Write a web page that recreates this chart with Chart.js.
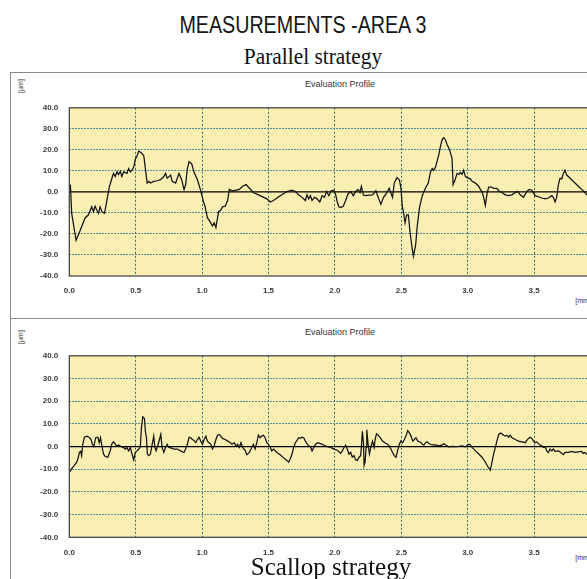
<!DOCTYPE html>
<html>
<head>
<meta charset="utf-8">
<script src="https://cdn.jsdelivr.net/npm/chart.js@4.4.1/dist/chart.umd.min.js"></script>
<style>
  html, body { margin: 0; padding: 0; background: #fff; width: 587px; height: 579px; overflow: hidden; }
  #page { position: relative; width: 587px; height: 579px; overflow: hidden; background: #fff; }
  .panel { position: absolute; left: 10px; width: 660px; border: 1px solid #8c8c8c; background: #fff; box-sizing: border-box; }
  .lbl { position: absolute; white-space: nowrap; transform: translate(-50%, -50%); line-height: 1; }
  .main-title { font-family: "Liberation Sans Narrow", "Liberation Sans", Arial, sans-serif; font-size: 24px; color: #151515;
                transform: translate(-50%, -50%) scaleX(0.82); }
  .sub-title { font-family: "Liberation Serif", "Times New Roman", serif; color: #111; }
  .small { font-family: "Liberation Sans", Arial, sans-serif; color: #333; }
  .chart-box { position: absolute; left: 0; }
  canvas { display: block; }
</style>
</head>
<body>
<div id="page">
  <div class="panel" style="top:72px;height:247px;"></div>
  <div class="panel" style="top:318px;height:290px;"></div>

  <div class="lbl main-title" style="left:303px;top:25px;">MEASUREMENTS -AREA 3</div>
  <div class="lbl sub-title" style="left:313px;top:56px;font-size:23px;transform:translate(-50%,-50%) scaleX(0.93);">Parallel strategy</div>

  <div class="lbl small" style="left:340px;top:84px;font-size:9px;">Evaluation Profile</div>
  <div class="lbl small" style="left:20px;top:86px;font-size:7px;transform:translate(-50%,-50%) rotate(-90deg);">[µm]</div>
  <div class="lbl small" style="left:583px;top:300px;font-size:7px;">[mm]</div>

  <div class="lbl small" style="left:340px;top:332px;font-size:9px;">Evaluation Profile</div>
  <div class="lbl small" style="left:20px;top:337px;font-size:7px;transform:translate(-50%,-50%) rotate(-90deg);">[µm]</div>
  <div class="lbl small" style="left:583px;top:557px;font-size:7px;">[mm]</div>

  <div class="chart-box" style="top:92px;"><canvas id="parallelChart" width="640" height="210"></canvas></div>
  <div class="chart-box" style="top:340px;"><canvas id="scallopChart" width="640" height="224"></canvas></div>

  <div class="lbl sub-title" style="left:331px;top:566px;font-size:25px;">Scallop strategy</div>
</div>

<script>
// Evaluation length [mm] and height range [µm]
const X_MIN = 0.0, X_MAX = 4.0, X_STEP = 0.5;
const Y_MIN = -40, Y_MAX = 40, Y_STEP = 10;

// Parallel strategy profile: position [mm]
const parallelX = [
  0.008, 0.018, 0.051, 0.081, 0.119, 0.144, 0.169, 0.182, 0.194, 0.207, 0.220, 0.232, 0.245, 0.265, 0.283,
  0.301, 0.321, 0.333, 0.346, 0.359, 0.371, 0.384, 0.396, 0.409, 0.434, 0.447, 0.460, 0.472, 0.485, 0.497,
  0.510, 0.523, 0.543, 0.561, 0.573, 0.586, 0.598, 0.611, 0.636, 0.662, 0.687, 0.712, 0.725, 0.737, 0.763,
  0.775, 0.801, 0.826, 0.846, 0.864, 0.876, 0.889, 0.902, 0.922, 0.939, 0.965, 0.990, 1.008, 1.023, 1.040,
  1.058, 1.078, 1.091, 1.104, 1.124, 1.141, 1.154, 1.174, 1.192, 1.205, 1.230, 1.255, 1.280, 1.306, 1.331,
  1.386, 1.437, 1.487, 1.513, 1.538, 1.588, 1.639, 1.677, 1.702, 1.727, 1.753, 1.778, 1.790, 1.803, 1.816,
  1.828, 1.846, 1.866, 1.886, 1.904, 1.922, 1.937, 1.955, 1.972, 1.992, 2.005, 2.018, 2.030, 2.043, 2.063,
  2.081, 2.098, 2.119, 2.139, 2.157, 2.174, 2.189, 2.199, 2.215, 2.232, 2.258, 2.283, 2.308, 2.326, 2.346,
  2.366, 2.384, 2.409, 2.434, 2.447, 2.467, 2.485, 2.497, 2.508, 2.518, 2.528, 2.540, 2.553, 2.566, 2.578,
  2.591, 2.608, 2.620, 2.638, 2.658, 2.683, 2.703, 2.720, 2.733, 2.745, 2.758, 2.770, 2.783, 2.795, 2.808,
  2.820, 2.833, 2.845, 2.858, 2.866, 2.875, 2.882, 2.890, 2.905, 2.920, 2.933, 2.945, 2.958, 2.970, 2.983,
  2.995, 3.020, 3.033, 3.058, 3.083, 3.095, 3.108, 3.120, 3.133, 3.145, 3.158, 3.178, 3.195, 3.220, 3.238,
  3.258, 3.283, 3.308, 3.333, 3.358, 3.378, 3.395, 3.420, 3.445, 3.463, 3.483, 3.508, 3.533, 3.558, 3.583,
  3.608, 3.633, 3.645, 3.658, 3.670, 3.683, 3.695, 3.708, 3.720, 3.733, 3.745, 3.758, 3.783, 3.808, 3.833,
  3.858, 3.883, 3.903
];
// Parallel strategy profile: height [µm]
const parallelY = [
  3.5, -10.2, -23.0, -18.5, -12.4, -10.9, -7.1, -9.4, -6.8, -8.6, -10.2, -7.1, -9.4, -10.2, -4.1,
  2.3, 6.5, 8.8, 7.3, 9.5, 8.3, 9.8, 7.3, 9.5, 8.8, 11.1, 9.5, 10.3, 11.8, 15.6,
  17.1, 19.4, 18.6, 17.1, 11.1, 4.2, 5.0, 4.2, 5.0, 5.3, 5.8, 7.3, 8.8, 6.5, 8.0,
  5.0, 4.2, 8.8, 5.8, 1.2, 3.5, 11.1, 14.4, 13.3, 9.5, 5.8, 0.5, -4.1, -7.1, -12.4,
  -13.9, -16.2, -14.7, -17.0, -9.4, -8.6, -7.1, -6.8, -4.1, 1.2, 0.5, 0.8, 1.2, 2.7, 3.5,
  -0.3, -1.8, -3.3, -4.8, -4.1, -1.8, 0.2, 0.8, 0.2, -1.4, -2.6, -4.1, -1.4, -3.3, -1.8,
  -4.1, -2.6, -3.3, -4.8, -1.8, -2.6, 0.2, -1.8, 0.5, 0.8, -1.1, -4.8, -7.1, -7.4, -6.8,
  -4.1, -1.1, 0.2, -1.8, 0.2, 1.2, -0.3, 2.7, -1.5, -1.8, -1.5, -1.4, 0.5, -2.6, -5.9,
  -2.6, -1.1, 1.7, -2.6, 4.2, 6.8, 5.8, 2.0, -7.1, -10.2, -14.7, -10.9, -10.9, -19.2, -25.3,
  -30.6, -25.3, -16.2, -7.1, -1.8, 2.0, 4.2, 9.5, 11.1, 10.3, 11.8, 14.8, 17.9, 21.7, 25.0,
  25.8, 24.7, 22.4, 20.9, 19.4, 17.5, 16.0, 3.5, 5.8, 8.8, 8.3, 9.2, 8.3, 10.3, 7.3,
  6.8, 6.2, 5.0, 4.2, 2.7, 1.2, 0.2, -2.6, -6.4, -1.1, 2.3, 2.3, 1.7, 1.7, 0.2,
  -0.3, -1.4, -1.8, -1.4, -0.3, 0.2, -1.4, -2.6, 0.2, 1.2, 0.8, -1.8, -2.3, -2.9, -3.3,
  -2.9, -1.8, -2.6, -4.8, -2.6, 3.5, 6.5, 6.2, 8.8, 10.3, 8.0, 7.3, 5.8, 4.2, 2.7,
  1.2, -0.3, -1.8
];

// Scallop strategy profile: position [mm]
const scallopX = [
  0.005, 0.018, 0.038, 0.056, 0.068, 0.076, 0.086, 0.093, 0.101, 0.114, 0.131, 0.149, 0.164, 0.174, 0.184,
  0.199, 0.215, 0.225, 0.235, 0.245, 0.258, 0.270, 0.290, 0.308, 0.321, 0.333, 0.346, 0.359, 0.371, 0.391,
  0.409, 0.422, 0.434, 0.447, 0.460, 0.472, 0.485, 0.497, 0.510, 0.523, 0.535, 0.543, 0.553, 0.566, 0.573,
  0.581, 0.588, 0.598, 0.611, 0.624, 0.636, 0.644, 0.654, 0.669, 0.679, 0.689, 0.699, 0.712, 0.725, 0.737,
  0.750, 0.770, 0.788, 0.813, 0.838, 0.864, 0.876, 0.889, 0.902, 0.914, 0.927, 0.939, 0.952, 0.965, 0.977,
  0.990, 1.003, 1.015, 1.028, 1.040, 1.053, 1.066, 1.078, 1.091, 1.104, 1.116, 1.129, 1.141, 1.154, 1.174,
  1.192, 1.205, 1.225, 1.242, 1.255, 1.268, 1.280, 1.293, 1.306, 1.326, 1.336, 1.356, 1.374, 1.386, 1.399,
  1.412, 1.424, 1.437, 1.449, 1.462, 1.475, 1.487, 1.500, 1.513, 1.525, 1.538, 1.563, 1.588, 1.614, 1.639,
  1.652, 1.664, 1.677, 1.689, 1.702, 1.715, 1.727, 1.740, 1.753, 1.765, 1.778, 1.790, 1.803, 1.816, 1.828,
  1.841, 1.854, 1.871, 1.891, 1.917, 1.942, 1.967, 1.992, 2.018, 2.043, 2.056, 2.068, 2.081, 2.093, 2.106,
  2.119, 2.131, 2.144, 2.157, 2.169, 2.182, 2.194, 2.199, 2.207, 2.215, 2.220, 2.227, 2.235, 2.240, 2.250,
  2.260, 2.270, 2.283, 2.295, 2.303, 2.313, 2.326, 2.341, 2.359, 2.376, 2.396, 2.409, 2.422, 2.434, 2.447,
  2.460, 2.472, 2.485, 2.497, 2.510, 2.523, 2.535, 2.548, 2.561, 2.573, 2.586, 2.598, 2.611, 2.624, 2.649,
  2.658, 2.670, 2.683, 2.695, 2.708, 2.720, 2.733, 2.758, 2.783, 2.808, 2.820, 2.833, 2.858, 2.883, 2.908,
  2.933, 2.958, 2.983, 3.008, 3.020, 3.033, 3.058, 3.083, 3.108, 3.133, 3.153, 3.170, 3.183, 3.195, 3.208,
  3.220, 3.233, 3.245, 3.258, 3.270, 3.283, 3.295, 3.308, 3.320, 3.333, 3.358, 3.383, 3.408, 3.433, 3.445,
  3.458, 3.470, 3.483, 3.495, 3.508, 3.520, 3.533, 3.545, 3.558, 3.570, 3.583, 3.595, 3.608, 3.620, 3.633,
  3.645, 3.658, 3.683, 3.708, 3.720, 3.733, 3.758, 3.783, 3.808, 3.833, 3.858, 3.870, 3.883, 3.903
];
// Scallop strategy profile: height [µm]
const scallopY = [
  -11.1, -9.7, -8.3, -6.9, -4.7, -2.6, -2.1, -4.0, 1.0, 4.1, 4.6, 4.1, 3.1, 1.0, -0.1,
  3.9, 4.1, 1.7, 3.9, 0.3, -3.3, -4.4, -4.7, -1.9, 1.3, 2.1, 1.0, 0.3, 0.7, -0.1,
  -0.4, -1.1, -0.4, -1.9, -0.4, -3.3, -5.9, -2.6, -1.9, -1.1, -0.1, 8.1, 13.1, 12.4, 6.7,
  3.9, -3.3, -4.0, -3.3, 1.0, 4.6, -0.4, -1.9, 1.0, 3.1, 5.3, -0.4, -2.6, -0.4, 1.0,
  -0.4, -0.7, -1.1, -1.1, -1.9, -2.6, -1.1, 1.0, 4.1, 3.9, 3.1, 2.7, 1.7, 3.1, 4.1,
  2.4, 1.0, 3.1, 4.6, 2.4, 1.7, 1.0, -1.1, 0.3, 3.1, 5.0, 5.3, 4.6, 3.6, 3.1,
  2.4, 2.1, 1.0, 1.7, 0.3, 1.0, -0.4, 1.7, -0.4, -1.9, -3.6, -2.6, -0.4, 1.0, -1.1,
  1.7, 5.0, 3.9, 4.6, 5.0, 3.9, 1.7, 1.0, -0.4, -1.9, -1.1, -2.6, -3.6, -5.0, -6.1,
  -6.9, -5.4, -3.3, -0.4, 1.7, 2.7, 3.9, 3.6, 4.1, 3.9, 2.4, 1.3, 0.3, -0.1, -1.9,
  -0.4, 1.0, 1.7, 1.3, 0.7, -0.1, -0.4, -1.1, -1.6, -3.0, -1.9, -0.4, 0.6, -1.1, -3.3,
  -2.6, -4.7, -4.0, -5.9, -6.1, -4.7, -4.0, -0.4, 6.7, 1.7, -8.3, -6.9, -0.4, 7.4, 1.0,
  -3.3, -0.4, 2.4, -0.4, 3.1, 5.6, 5.0, 3.9, 2.4, 1.7, 1.0, 0.3, -1.1, -2.6, -4.0,
  -4.7, -1.9, 1.0, 2.4, 1.7, 3.1, 4.6, 7.0, 6.0, 4.6, 2.4, 3.1, 3.9, 2.4, 1.7,
  1.0, 0.7, 1.7, 2.1, 1.3, 1.0, 0.7, 0.7, 0.3, 0.7, 1.3, 0.7, -0.1, 0.1, 0.0,
  0.1, 0.3, -0.1, 1.0, 0.7, -0.4, -1.9, -3.3, -4.7, -6.9, -9.0, -10.4, -6.9, -3.3, -0.4,
  2.4, 5.3, 6.0, 5.6, 5.0, 4.6, 5.0, 4.1, 5.0, 3.9, 3.1, 2.4, 2.1, 1.7, 2.7,
  3.6, 4.1, 3.6, 2.4, 1.7, 2.0, 1.3, 0.7, 0.3, -0.4, -0.1, -1.9, -2.6, -1.1, -1.9,
  -1.1, -2.1, -1.9, -3.0, -3.6, -2.6, -2.6, -2.1, -2.6, -2.3, -2.1, -3.0, -2.6, -3.6
];

const PLOT_BG = '#f9efb3';
const FRAME_COLOR = '#3a3a3a';
const V_GRID = '#2d6b6c';
const H_GRID = '#4f8e94';
const TICK_FONT = { family: '"Liberation Sans", Arial, sans-serif', size: 8, weight: 'bold' };

// Yellow plotting field under the grid, dark frame over it
const plotFrame = {
  id: 'plotFrame',
  beforeDraw(chart) {
    const { ctx, chartArea: a } = chart;
    ctx.save();
    ctx.fillStyle = PLOT_BG;
    ctx.fillRect(a.left, a.top, a.right - a.left, a.bottom - a.top);
    ctx.restore();
  },
  afterDatasetsDraw(chart) {
    const { ctx, chartArea: a } = chart;
    ctx.save();
    ctx.strokeStyle = FRAME_COLOR;
    ctx.lineWidth = 1.2;
    ctx.strokeRect(a.left, a.top, a.right - a.left, a.bottom - a.top);
    ctx.restore();
  }
};

function profileChart(canvasId, xs, ys, geom) {
  const points = xs.map((x, i) => ({ x: x, y: ys[i] }));
  return new Chart(document.getElementById(canvasId), {
    type: 'line',
    data: {
      datasets: [
        { data: points, borderColor: '#121212', borderWidth: 1.25, pointRadius: 0, tension: 0, order: 0 },
        { data: [{ x: X_MIN, y: 0 }, { x: X_MAX, y: 0 }], borderColor: '#000', borderWidth: 1.3, pointRadius: 0, order: 1 }
      ]
    },
    options: {
      responsive: false,
      animation: false,
      devicePixelRatio: 1,
      events: [],
      layout: { padding: { left: 0, top: geom.padTop, right: geom.padRight, bottom: 0 } },
      plugins: { legend: { display: false }, tooltip: { enabled: false }, title: { display: false } },
      scales: {
        x: {
          type: 'linear', min: X_MIN, max: X_MAX,
          ticks: { stepSize: X_STEP, autoSkip: false, maxRotation: 0, padding: geom.xPad, color: '#3a3a3a', font: TICK_FONT,
                   callback: v => Number(v).toFixed(1) },
          grid: { drawTicks: false, lineWidth: 1,
                  color: c => (c.tick && (c.tick.value <= X_MIN || c.tick.value >= X_MAX)) ? 'rgba(0,0,0,0)' : V_GRID },
          border: { display: false, dash: [2, 2] },
          afterFit: s => { s.height = geom.xAxisH; }
        },
        y: {
          type: 'linear', min: Y_MIN, max: Y_MAX,
          ticks: { stepSize: Y_STEP, padding: 11, color: '#3a3a3a', font: TICK_FONT,
                   callback: v => Number(v).toFixed(1) },
          grid: { drawTicks: false, lineWidth: 1,
                  color: c => (c.tick && (c.tick.value === 0 || c.tick.value <= Y_MIN || c.tick.value >= Y_MAX)) ? 'rgba(0,0,0,0)' : H_GRID },
          border: { display: false, dash: [2, 1] },
          afterFit: s => { s.width = 69.3; }
        }
      }
    },
    plugins: [plotFrame]
  });
}

profileChart('parallelChart', parallelX, parallelY, { padTop: 10.3, padRight: 39.5, xAxisH: 26, xPad: 10 });
profileChart('scallopChart', scallopX, scallopY, { padTop: 10, padRight: 39.5, xAxisH: 26.7, xPad: 11 });
</script>
</body>
</html>
